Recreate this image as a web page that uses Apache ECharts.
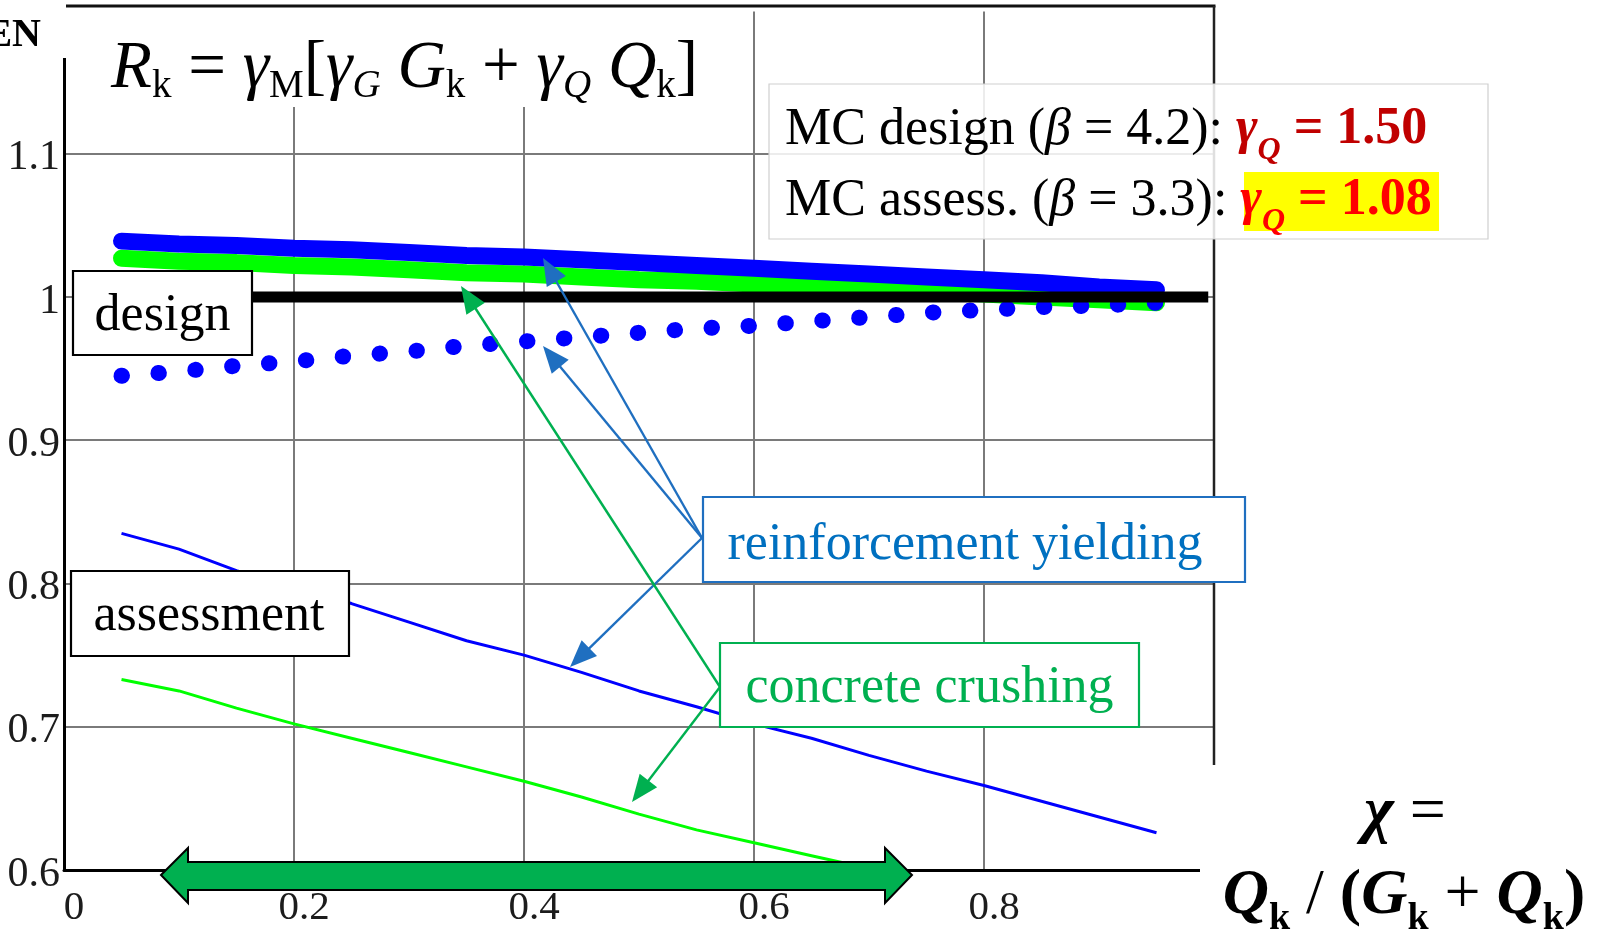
<!DOCTYPE html>
<html>
<head>
<meta charset="utf-8">
<script src="https://cdn.jsdelivr.net/npm/echarts@6/dist/echarts.min.js"></script>
<style>
html,body{margin:0;padding:0;background:#ffffff;}
#chart{width:1598px;height:931px;}
</style>
</head>
<body>
<div id="chart"></div>
<script>
// ---- data ----
const chi = [0.05,0.10,0.15,0.20,0.25,0.30,0.35,0.40,0.45,0.50,0.55,0.60,0.65,0.70,0.75,0.80,0.85,0.90,0.95];
// MC design, reinforcement yielding (thick blue band)
const mcDesignYielding = [1.039,1.037,1.036,1.034,1.033,1.031,1.029,1.028,1.026,1.024,1.022,1.020,1.018,1.016,1.014,1.012,1.010,1.007,1.005];
// MC design, concrete crushing (thick green band)
const mcDesignCrushing = [1.027,1.025,1.024,1.022,1.021,1.019,1.017,1.016,1.014,1.012,1.011,1.009,1.007,1.005,1.004,1.002,1.000,0.998,0.996];
// EN design, reinforcement yielding (blue dotted)
const enDesignYielding = [0.945,0.948,0.952,0.955,0.959,0.962,0.966,0.969,0.972,0.975,0.978,0.980,0.983,0.986,0.989,0.991,0.993,0.994,0.996];
// assessment, reinforcement yielding (thin blue)
const assessYielding = [0.835,0.824,0.809,0.797,0.786,0.773,0.760,0.750,0.738,0.725,0.714,0.702,0.692,0.680,0.669,0.659,0.648,0.637,0.626];
// assessment, concrete crushing (thin green, leaves the axis below 0.6)
const assessCrushingChi = [0.05,0.10,0.15,0.20,0.25,0.30,0.35,0.40,0.45,0.50,0.55,0.60,0.65,0.70,0.75];
const assessCrushing = [0.733,0.725,0.713,0.702,0.692,0.682,0.672,0.662,0.651,0.639,0.628,0.619,0.610,0.601,0.592];
// design level line
const designLevelChi = [0.05, 0.995];
const designLevelValue = [1.0, 1.0];
// tick labels
const xTickLabels = {'0':'0','0.2':'0.2','0.4':'0.4','0.6':'0.6','0.8':'0.8'};
const yTickLabels = {'0.6':'0.6','0.7':'0.7','0.8':'0.8','0.9':'0.9','1':'1','1.1':'1.1'};

function pairs(xs, ys){ return xs.map((x,i)=>[x, ys[i]]); }

const SERIF = '"Liberation Serif","DejaVu Serif",serif';
const BLUE_ANN = '#1F6FC0';
const GREEN_ANN = '#00B050';

// plot frame (pixels)
const PL = 64, PR = 1214, PT = 10.5, PB = 870;

function arrowEls(x0,y0,x1,y1,color){
  const dx=x1-x0, dy=y1-y0, L=Math.hypot(dx,dy), ux=dx/L, uy=dy/L;
  const hl=27, hw=11;
  const bx=x1-ux*hl, by=y1-uy*hl;
  return [
    {type:'line', z:110, shape:{x1:x0,y1:y0,x2:bx+ux*2,y2:by+uy*2}, style:{stroke:color,lineWidth:2.4}},
    {type:'polygon', z:110, shape:{points:[[x1,y1],[bx-uy*hw,by+ux*hw],[bx+uy*hw,by-ux*hw]]}, style:{fill:color}}
  ];
}

function boxEl(x,y,w,h,stroke,fill){
  return {type:'rect', z:100, shape:{x:x,y:y,width:w,height:h}, style:{fill:fill||'#ffffff', stroke:stroke, lineWidth:2.2}};
}
function textEl(x,y,text,opts){
  const st = Object.assign({x:x,y:y,text:text,fontFamily:SERIF,fontSize:52,fill:'#000',
    align:'center',verticalAlign:'middle',textAlign:'center',textVerticalAlign:'middle'}, opts||{});
  return {type:'text', z:105, style:st};
}

// rich styles (zrender rich text uses fill)
function mainS(size, lh, extra){ return Object.assign({fontFamily:SERIF,fontSize:size,lineHeight:lh,fill:'#000'},extra||{}); }
function subS(size, extra){ return Object.assign({fontFamily:SERIF,fontSize:size,lineHeight:size,verticalAlign:'bottom',fill:'#000'},extra||{}); }

const formula = {
  type:'text', z:105,
  style:{
    x:111, y:69, align:'left', verticalAlign:'middle', textAlign:'left', textVerticalAlign:'middle',
    text:'{i|R}{s|k}{n| = }{i|γ}{s|M}{n|[}{i|γ}{si|G}{n| }{i|G}{s|k}{n| + }{i|γ}{si|Q}{n| }{i|Q}{s|k}{n|]}',
    rich:{
      i: mainS(67,74,{fontStyle:'italic'}),
      n: mainS(67,74),
      s: subS(39),
      si: subS(39,{fontStyle:'italic'})
    }
  }
};

function mcLine(y, label, value, color){
  return {
    type:'text', z:106,
    style:{
      x:785, y:y, align:'left', verticalAlign:'middle', textAlign:'left', textVerticalAlign:'middle',
      text:'{n|'+label[0]+'}{ni|β}{n|'+label[1]+'}{ri|γ}{rs|Q}{rb| = '+value+'}',
      rich:{
        n:mainS(52,74),
        ni:mainS(52,74,{fontStyle:'italic'}),
        ri:mainS(52,74,{fill:color,fontStyle:'italic',fontWeight:'bold'}),
        rs:subS(32,{fill:color,fontStyle:'italic',fontWeight:'bold'}),
        rb:mainS(52,74,{fill:color,fontWeight:'bold'})
      }
    }
  };
}

const chiLabel1 = {
  type:'text', z:106,
  style:{
    x:1405, y:813, align:'center', verticalAlign:'middle', textAlign:'center', textVerticalAlign:'middle',
    text:'{bi|χ}{n| =}',
    rich:{
      bi:mainS(64,80,{fontStyle:'italic',fontWeight:'bold'}),
      n:mainS(64,80)
    }
  }
};
const chiLabel2 = {
  type:'text', z:106,
  style:{
    x:1404, y:896, align:'center', verticalAlign:'middle', textAlign:'center', textVerticalAlign:'middle',
    text:'{bi|Q}{bs|k}{n| / }{b|(}{bi|G}{bs|k}{n| + }{bi|Q}{bs|k}{b|)}',
    rich:{
      bi:mainS(64,84,{fontStyle:'italic',fontWeight:'bold'}),
      b:mainS(64,84,{fontWeight:'bold'}),
      n:mainS(64,84),
      bs:subS(38,{fontWeight:'bold'})
    }
  }
};

const graphics = [
  // plot frame: top and right border
  {type:'rect', z:49, shape:{x:PL+2,y:4,width:PR-PL-2,height:PT-3}, style:{fill:'#fff'}},
  {type:'line', z:50, shape:{x1:PL-1.5,y1:6,x2:PR+1.5,y2:6}, style:{stroke:'#111',lineWidth:3}},
  {type:'line', z:50, shape:{x1:PR,y1:6,x2:PR,y2:PB}, style:{stroke:'#222',lineWidth:2.5}},
  // white boxes hiding parts of the frame (text boxes of the slide)
  {type:'rect', z:100, shape:{x:0,y:0,width:66,height:58}, style:{fill:'#fff'}},
  {type:'rect', z:100, shape:{x:92,y:10,width:625,height:97}, style:{fill:'#fff'}},
  {type:'rect', z:100, shape:{x:1200,y:765,width:398,height:166}, style:{fill:'#fff'}},
  textEl(41,36,'EN',{fontSize:40,fontWeight:'bold',align:'right',textAlign:'right'}),
  formula,
  // MC box
  {type:'rect', z:100, shape:{x:769,y:84,width:719,height:155}, style:{fill:'rgba(255,255,255,0.86)', stroke:'#cfcfcf', lineWidth:1.2}},
  {type:'rect', z:101, shape:{x:1244,y:172,width:195,height:59}, style:{fill:'#FFFF00'}},
  mcLine(130, ['MC design (',' = 4.2): '], '1.50', '#C00000'),
  mcLine(201, ['MC assess. (',' = 3.3): '], '1.08', '#FF0000'),
  // design / assessment boxes
  boxEl(73,271,179,84,'#000'),
  textEl(162.5,316,'design'),
  boxEl(71,571,278,85,'#000'),
  textEl(209,616,'assessment'),
  // annotation boxes
  boxEl(703,497,542,85,BLUE_ANN),
  textEl(965,545,'reinforcement yielding',{fill:'#0070C0'}),
  boxEl(720,643,419,84,GREEN_ANN),
  textEl(929.5,688,'concrete crushing',{fill:GREEN_ANN}),
  // chi label
  chiLabel1, chiLabel2,
  // green double arrow (range of chi)
  {type:'polygon', z:108, shape:{points:[[161,875],[188,848],[188,862],[885,862],[885,848],[912,875],[885,903],[885,890],[188,890],[188,903]]},
   style:{fill:'#00B050', stroke:'#000', lineWidth:2}}
].concat(
  arrowEls(702,538,543,258,BLUE_ANN),
  arrowEls(702,538,543,346,BLUE_ANN),
  arrowEls(702,538,570,667,BLUE_ANN),
  arrowEls(720,687,461,286,GREEN_ANN),
  arrowEls(720,687,632,802,GREEN_ANN)
);

const chart = echarts.init(document.getElementById('chart'), null, {renderer:'canvas'});
chart.setOption({
  animation:false,
  backgroundColor:'#ffffff',
  grid:{left:PL, top:PT, width:PR-PL, height:PB-PT, show:false, containLabel:false},
  xAxis:{
    type:'value', min:0, max:1, interval:0.2,
    axisLine:{show:true, onZero:false, lineStyle:{color:'#000', width:3}},
    axisTick:{show:false},
    splitLine:{show:true, showMaxLine:false, lineStyle:{color:'#7a7a7a', width:2}},
    axisLabel:{
      margin:18, padding:[0,0,0,20],
      fontFamily:SERIF, fontSize:41, color:'#1c1c1c',
      formatter:function(v){ const k=String(+v.toFixed(2)); return xTickLabels[k]||''; }
    }
  },
  yAxis:{
    type:'value', min:0.6, max:1.2, interval:0.1,
    axisLine:{show:true, onZero:false, lineStyle:{color:'#000', width:3}},
    axisTick:{show:false},
    splitLine:{show:true, showMaxLine:false, lineStyle:{color:'#7a7a7a', width:2}},
    axisLabel:{
      margin:4, verticalAlign:'top', lineHeight:9,
      fontFamily:SERIF, fontSize:42, color:'#1c1c1c',
      formatter:function(v){ const k=String(+v.toFixed(2)); return yTickLabels[k]||''; }
    }
  },
  series:[
    {type:'line', name:'MC design crushing', data:pairs(chi, mcDesignCrushing), symbol:'none', z:3,
     lineStyle:{color:'#00FF00', width:17, cap:'round', join:'round'}},
    {type:'line', name:'MC design yielding', data:pairs(chi, mcDesignYielding), symbol:'none', z:4,
     lineStyle:{color:'#0000FF', width:17, cap:'round', join:'round'}},
    {type:'line', name:'EN design yielding', data:pairs(chi, enDesignYielding), symbol:'none', z:5,
     lineStyle:{color:'#0000FF', width:16, type:[0.5,36.5], cap:'round', join:'round'}},
    {type:'line', name:'assessment yielding', data:pairs(chi, assessYielding), symbol:'none', z:5,
     lineStyle:{color:'#0000FF', width:3}},
    {type:'line', name:'assessment crushing', data:pairs(assessCrushingChi, assessCrushing), symbol:'none', z:5, clip:true,
     lineStyle:{color:'#00FF00', width:3}},
    {type:'line', name:'design level', data:pairs(designLevelChi, designLevelValue), symbol:'none', z:6,
     lineStyle:{color:'#000000', width:11, cap:'butt'}}
  ],
  graphic:{elements:graphics}
});
</script>
</body>
</html>
